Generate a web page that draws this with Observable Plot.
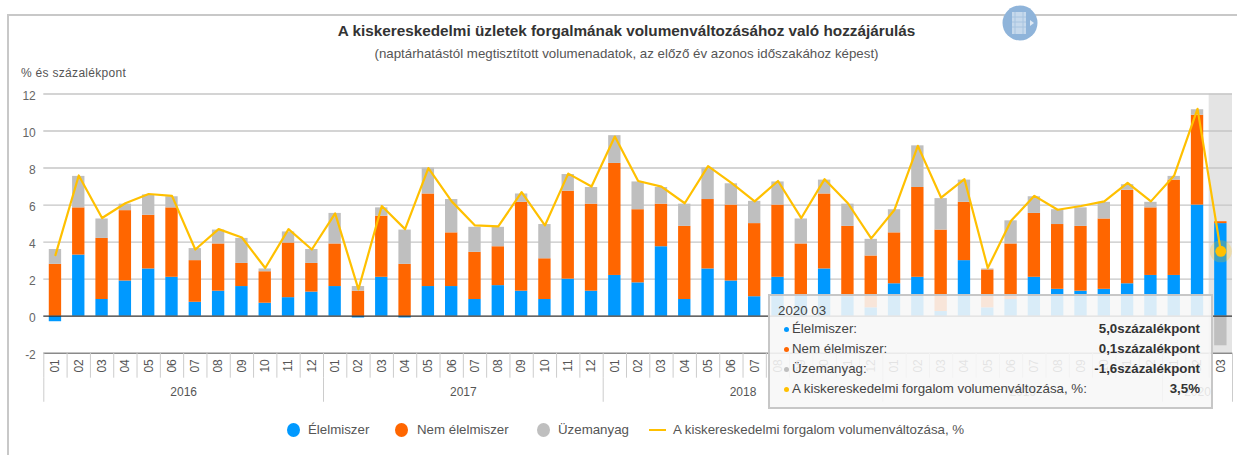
<!DOCTYPE html>
<html lang="hu"><head><meta charset="utf-8">
<script src="https://cdn.jsdelivr.net/npm/d3@7"></script>
<script src="https://cdn.jsdelivr.net/npm/@observablehq/plot@0.6"></script>
<style>
html,body{margin:0;padding:0;background:#fff;overflow:hidden;width:1237px;height:455px;font-family:"Liberation Sans",Arial,sans-serif}
#wrap{position:relative;width:1237px;height:455px}
#wrap svg{position:absolute;left:0;top:0}
.abs{position:absolute;white-space:nowrap}
#frameL{left:7px;top:14px;width:2px;height:441px;background:#c8c8c8}
#frameT{left:7px;top:14px;width:1230px;height:2px;background:#c8c8c8}
#title{left:0;width:1253px;text-align:center;top:22px;font-size:15.3px;font-weight:bold;color:#333}
#sub{left:0;width:1253px;text-align:center;top:46px;font-size:13.3px;color:#555}
#unit{left:21px;top:66px;font-size:12px;color:#555;letter-spacing:.3px}
.leg{top:422px;font-size:13.3px;color:#555}
#tip{left:768px;top:294px;width:441px;height:111px;background:rgba(247,247,247,.88);border:2px solid rgba(190,190,190,.85);font-size:13.3px;color:#444}
#tip .row{position:absolute;left:22px;right:11px;height:16px;line-height:16px}
#tip .row b{position:absolute;right:0;top:0;color:#333}
#tip .row i{position:absolute;left:-8px;top:5.5px;width:5px;height:5px;border-radius:50%}
</style></head><body>
<div id="wrap"></div>
<script>
const months = ["2016-01","2016-02","2016-03","2016-04","2016-05","2016-06","2016-07","2016-08","2016-09","2016-10","2016-11","2016-12",
"2017-01","2017-02","2017-03","2017-04","2017-05","2017-06","2017-07","2017-08","2017-09","2017-10","2017-11","2017-12",
"2018-01","2018-02","2018-03","2018-04","2018-05","2018-06","2018-07","2018-08","2018-09","2018-10","2018-11","2018-12",
"2019-01","2019-02","2019-03","2019-04","2019-05","2019-06","2019-07","2019-08","2019-09","2019-10","2019-11","2019-12",
"2020-01","2020-02","2020-03"];
const food = [-0.3,3.3,0.9,1.9,2.55,2.1,0.75,1.35,1.6,0.7,1.0,1.3,
1.6,-0.1,2.1,-0.1,1.6,1.6,0.9,1.65,1.35,0.9,2.0,1.35,
2.2,1.8,3.75,0.9,2.55,1.9,1.05,2.1,1.1,2.55,1.05,0.45,
1.75,2.1,0.25,3.0,0.45,0.9,2.1,1.45,1.35,1.45,1.75,2.2,
2.2,6.0,5.0];
const nonFood = [2.8,2.55,3.3,3.8,2.9,3.75,2.25,2.55,1.25,1.7,2.95,1.55,
2.3,1.35,3.3,2.8,5.0,2.9,2.55,2.1,4.8,2.2,4.75,4.7,
6.05,3.95,2.3,3.95,3.75,4.1,3.95,3.9,2.8,4.05,3.8,2.8,
2.75,4.85,4.4,3.15,2.05,3.0,3.45,3.5,3.5,3.8,5.05,3.65,
5.15,4.85,0.1];
const fuel = [0.8,1.7,1.05,0.35,1.1,0.6,0.65,0.75,1.35,0.15,0.6,0.75,
1.65,0.25,0.45,1.85,1.4,1.8,1.35,1.05,0.45,1.85,0.9,0.9,
1.5,1.5,0.9,1.2,1.7,1.15,1.2,1.25,1.35,0.75,1.2,0.9,
1.25,2.25,1.7,1.2,0.05,1.25,0.9,0.8,1.0,0.9,0.3,0.3,
0.2,0.3,-1.6];
const total = [3.3,7.6,5.3,6.1,6.6,6.5,3.6,4.7,4.25,2.6,4.7,3.6,
5.55,1.45,5.95,4.7,8.0,6.2,4.9,4.85,6.7,4.9,7.7,7.0,
9.7,7.3,7.0,6.1,8.1,7.2,6.2,7.3,5.3,7.4,6.1,4.2,
5.75,9.2,6.4,7.4,2.6,5.15,6.5,5.75,5.95,6.2,7.2,6.2,
7.6,11.2,3.5];
const seriesNames = ["Élelmiszer","Nem élelmiszer","Üzemanyag"];
const seriesColors = ["#0099ff","#ff6600","#bfbfbf"];
const lineName = "A kiskereskedelmi forgalom volumenváltozása, %";
const lineColor = "#ffc000";
const fullYears = [["2016","2016-06"],["2017","2017-06"],["2018","2018-06"],["2019","2019-06"]];
const partYears = [["2020","2020-02"]];
const yearStarts = ["2016-01","2017-01","2018-01","2019-01","2020-01"];
const yTicks = [-2,0,2,4,6,8,10,12];
const current = "2020-03";
const tipRows = [["Élelmiszer:","5,0százalékpont","#0099ff"],["Nem élelmiszer:","0,1százalékpont","#ff6600"],["Üzemanyag:","-1,6százalékpont","#bfbfbf"],[lineName+":","3,5%","#ffc000"]];

const long = seriesNames.flatMap((name,k)=>months.map((m,i)=>({month:m,series:name,value:[food,nonFood,fuel][k][i]})));
const totals = months.map((m,i)=>({month:m,value:total[i]}));
const L=43.3,R=1232,step=(R-L)/months.length;
const grey="#666";

const chart = Plot.plot({
  width:1237,height:455,marginLeft:L,marginRight:1237-R,marginTop:93.5,marginBottom:455-352.7,
  style:{fontFamily:"'Liberation Sans',Arial,sans-serif",fontSize:"12px",background:"transparent",overflow:"visible"},
  x:{domain:months,paddingInner:0.47,paddingOuter:0.235,round:false,label:null},
  y:{domain:[-2,12],label:null},
  color:{domain:seriesNames,range:seriesColors},
  marks:[
    Plot.barY([current],{x:d=>d,y1:-2,y2:12,fill:"#e4e4e4",insetLeft:-5.5,insetRight:-5.5}),
    Plot.ruleY(yTicks.filter(d=>d>0),{stroke:"#c6c6c6",strokeWidth:1.4}),
    Plot.barY(long,Plot.stackY({x:"month",y:"value",fill:"series",z:"series"})),
    Plot.ruleY([0],{stroke:"#333",strokeWidth:1.4}),
    Plot.ruleY([-2],{stroke:"#8a8a8a",strokeWidth:1.6}),
    Plot.lineY(totals,{x:"month",y:"value",stroke:lineColor,strokeWidth:2.2,curve:"linear"}),
    Plot.dot(totals.slice(-1),{x:"month",y:"value",r:11,fill:lineColor,fillOpacity:.25}),
    Plot.dot(totals.slice(-1),{x:"month",y:"value",r:5.5,fill:lineColor}),
    Plot.axisY({ticks:yTicks,tickSize:0,tickPadding:8,dy:2,tickFormat:d=>String(d),fill:grey,fontSize:12,label:null}),
    Plot.axisX({tickSize:0,tickRotate:-90,tickPadding:6,tickFormat:d=>d.slice(5),fill:"#555",fontSize:12,label:null}),
    Plot.ruleX(months,{x:d=>d,dx:-step/2,y1:-2,y2:-3.35,stroke:"#ccc"}),
    Plot.ruleX(yearStarts,{x:d=>d,dx:-step/2,y1:-3.35,y2:-4.65,stroke:"#ccc"}),
    Plot.ruleX([current],{x:d=>d,dx:step/2,y1:-2,y2:-4.65,stroke:"#ccc"}),
    Plot.text(fullYears,{x:d=>d[1],text:d=>d[0],y:()=>-4.1,dx:step/2,fill:"#555",fontSize:12}),
    Plot.text(partYears,{x:d=>d[1],text:d=>d[0],y:()=>-4.1,fill:"#555",fontSize:12})
  ]
});
const wrap=document.getElementById("wrap");
wrap.appendChild(chart);

function add(id,cls,html,style){const e=document.createElement("div");if(id)e.id=id;e.className="abs "+(cls||"");e.innerHTML=html||"";if(style)e.style.cssText=style;wrap.appendChild(e);return e;}
add("frameL");add("frameT");
add("title","","A kiskereskedelmi üzletek forgalmának volumenváltozásához való hozzájárulás");
add("sub","","(naptárhatástól megtisztított volumenadatok, az előző év azonos időszakához képest)");
add("unit","","% és százalékpont");
add("","",`<svg width="36" height="36" viewBox="0 0 36 36" style="position:static"><circle cx="18" cy="18" r="17.5" fill="#8fb4da"/><rect x="10" y="7" width="14" height="22" fill="#c6d9ec"/><path d="M13 7v22M21 7v22M10 12h14M10 17h14M10 22h14" stroke="#a8c4e0"/><path d="M28 15l4 3-4 3z" fill="#dfe9f4"/></svg>`,"left:1002px;top:5px;");
const positions=[[294,308],[402,417],[544,558]];
seriesNames.forEach((n,i)=>{
  add("","","",`left:${positions[i][0]-7}px;top:423px;width:13px;height:14px;background:${seriesColors[i]};border-radius:50%`);
  add("","leg",n,`left:${positions[i][1]}px`);
});
add("","","",`left:649px;top:429px;width:17px;height:2px;background:${lineColor}`);
add("","leg",lineName,"left:673px");
const tip=add("tip");
tip.innerHTML=`<div style="position:absolute;left:8px;top:7px;font-size:13.3px">2020 03</div>`+
  tipRows.map((r,i)=>`<div class="row" style="top:${25+i*20}px"><i style="background:${r[2]}"></i>${r[0]}<b>${r[1]}</b></div>`).join("");
</script>
</body></html>
